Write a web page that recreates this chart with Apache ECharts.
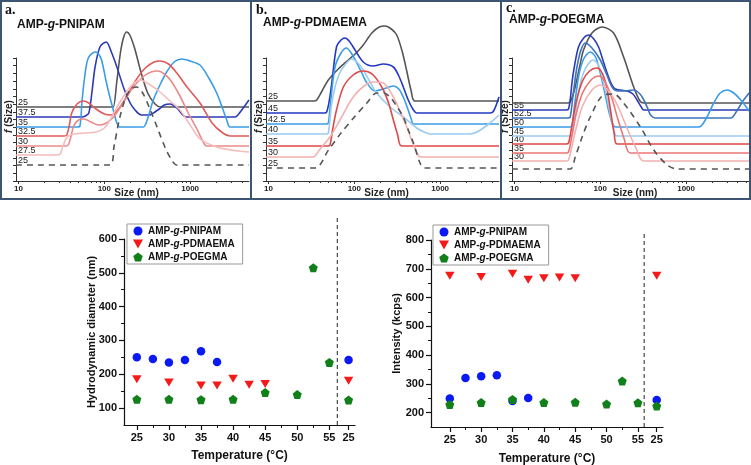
<!DOCTYPE html>
<html><head><meta charset="utf-8">
<script src="https://cdn.jsdelivr.net/npm/echarts@6/dist/echarts.min.js"></script>
<style>html,body{margin:0;padding:0;background:#fff}#c{width:751px;height:465px}</style>
</head><body><div id="c"></div>
<script>
// ================= DATA =================
// Panel a: AMP-g-PNIPAM  (points: [size nm, f(Size) offset units])
const a_T = ['25','37.5','35','32.5','30','27.5','25'];
const a_base = [74,64,54,45,35,26,16];
const a_25 = [[9.35,74],[120,74],[127,74],[140,100],[155,130],[168,144],[182,149],[198,146],[225,133],[265,110],[320,88],[390,77],[454,74],[4850,74]];
const a_37_5 = [[9.35,64],[55,64],[60,65],[66,68],[72,90],[78,114],[89,134],[105,139],[122,128],[140,114],[170,92],[200,78],[228,71],[270,66],[330,66],[420,71],[500,76],[583,77],[700,73],[820,66],[912,64],[3335,64],[3600,66],[4850,81]];
const a_35 = [[9.35,54],[48,54],[52,55],[55,80],[59,104],[65,123],[78,129],[90,124],[97,114],[106,98],[116,84],[130,68],[140,58],[152,54],[285,54],[300,56],[330,66],[372,81],[450,97],[533,109],[650,119],[798,122],[1000,120],[1303,116],[1650,103],[2040,88],[2400,72],[2670,61],[2917,54],[4850,54]];
const a_32_5 = [[9.35,45],[34,45],[36.5,46],[39,55],[41.7,68],[48,77],[57,80],[66,78],[80,72],[100,67],[118,66],[140,70],[175,82],[230,100],[300,113],[380,119],[446,120],[560,117],[700,108],[900,95],[1303,78],[1800,58],[2400,48],[2917,45],[4850,45]];
const a_30 = [[9.35,35],[36,35],[38,36],[41,45],[44,55],[50,61],[58,62],[70,59],[85,56],[100,57],[125,63],[160,76],[210,92],[280,104],[350,109],[426,110],[500,107],[600,100],[750,86],[950,68],[1200,52],[1400,40],[1560,35],[4850,35]];
const a_27_5 = [[9.35,26],[28,26],[30.5,27],[33,35],[37,44],[45,47],[60,48],[80,49],[100,53],[116,61],[150,78],[200,94],[260,101],[330,97],[446,89],[600,79],[762,71],[1000,56],[1303,42],[2040,34],[3000,31],[4850,29]];
const a_25d = [[9.35,16],[116,16],[130,35],[150,62],[175,82],[205,92],[239,94],[280,88],[340,72],[420,52],[520,32],[620,20],[698,16],[4850,16]];

// Panel b: AMP-g-PDMAEMA
const b_T = ['25','45','42.5','40','35','30','25'];
const b_base = [80,68,57,47,35,24,13];
const b_25 = [[9.35,80],[34,80],[36.5,81],[42,90],[49.8,101],[65,112],[85,121],[105,128],[127,136],[160,148],[195,154],[228,155],[270,152],[312,146],[360,130],[408,110],[460,90],[509,80],[4850,80]];
const b_45 = [[9.35,68],[45,68],[47.6,69],[51,80],[54.6,98],[62,134],[70,141],[78,143],[87,140],[97,134],[127,119],[166,115],[218,117],[285,114],[330,105],[372,94],[430,80],[488,71],[533,68],[3820,68],[4200,70],[4850,84]];
const b_42_5 = [[9.35,57],[47,57],[49.8,58],[53,80],[59.6,114],[70,128],[81,133],[92,128],[107,118],[124,107],[140,98],[174,90],[218,92],[285,95],[330,92],[372,84],[420,72],[460,62],[488,57],[4850,57]];
const b_40 = [[9.35,47],[47,47],[49.8,48],[54,75],[59.6,94],[66,106],[74.5,114],[93,122],[110,118],[127,111],[150,100],[182,88],[261,74],[372,64],[533,53],[650,49],[762,47],[2234,47],[4850,66]];
const b_35 = [[9.35,35],[49,35],[52,36],[56,52],[62,71],[74.5,94],[97,106],[127,110],[166,106],[218,91],[255,76],[285,61],[320,46],[357,35],[4850,35]];
const b_30 = [[9.35,24],[33,24],[34.8,25],[40,32],[52,44],[68,61],[97,84],[130,95],[166,99],[218,98],[285,84],[340,70],[408,54],[470,40],[533,29],[583,24],[4850,24]];
const b_25d = [[9.35,13],[34.8,13],[50,31],[70,48],[100,64],[140,78],[182,88],[220,88],[261,84],[310,75],[372,64],[430,50],[488,38],[583,18],[650,13],[4850,13]];

// Panel c: AMP-g-POEGMA
const c_T = ['25','55','52.5','50','45','40','35','30','25'];
const c_base = [78,71,63,54,45,37,28,20,12];
const c_25 = [[9.35,78],[42,78],[44.6,79],[48,86],[51,94],[58,116],[63.8,131],[80,148],[105,154],[143,148],[187,124],[245,94],[290,80],[321,78],[5560,78]];
const c_55 = [[9.35,71],[40,71],[42.6,72],[45,84],[46.7,98],[50,115],[55.7,134],[64,143],[73,146],[84,142],[95.5,134],[108,120],[120,108],[135,97],[150,92],[205,90],[240,87],[268,81],[300,74],[321,71],[5560,71]];
const c_52_5 = [[9.35,63],[42,63],[44.6,64],[48,85],[53,112],[59,130],[66.8,138],[80,133],[100,121],[118,107],[137,94],[160,90],[187,90],[245,91],[290,87],[321,81],[360,72],[385,66],[440,63],[3310,63],[3900,70],[4600,80],[5560,89]];
const c_50 = [[9.35,54],[44,54],[46.7,55],[50,75],[56,105],[64,122],[76.4,129],[88,124],[100,108],[115,85],[130,65],[150,54],[1410,54],[1700,62],[2100,78],[2500,88],[3030,91],[3600,88],[4340,81],[5560,69]];
const c_45 = [[9.35,45],[44,45],[46.7,46],[50,62],[56,90],[65,110],[82.2,121],[95,116],[108,100],[125,75],[140,55],[157,45],[5560,45]];
const c_40 = [[9.35,37],[40,37],[42.6,38],[46,52],[52,78],[62,100],[75,110],[91.5,113],[105,108],[118,95],[132,70],[145,48],[157,37],[5560,37]];
const c_35 = [[9.35,28],[40,28],[42.6,29],[46,42],[52,66],[62,88],[78,101],[95.5,105],[112,100],[135,84],[160,62],[190,42],[224,28],[5560,28]];
const c_30 = [[9.35,20],[40,20],[42.6,21],[46,32],[52,52],[62,75],[80,91],[100,96],[125,90],[160,75],[200,55],[260,33],[321,20],[5560,20]];
const c_25d = [[9.35,12],[44.6,12],[51,24],[62,45],[76.4,64],[109,86],[143,87],[187,78],[294,54],[420,31],[603,16],[788,12],[5560,12]];

const sizeTicks = [10,100,1000];
const sizeMinor = [20,30,40,50,60,70,80,90,200,300,400,500,600,700,800,900,2000,3000,4000,5000];

// Bottom-left: hydrodynamic diameter (nm) vs temperature (58 = back to 25 °C after cooling)
const RETURN_X = 58;
const tempTickVals = [25,30,35,40,45,50,55,58];
const tempTickText = ['25','30','35','40','45','50','55','25'];
const tPNIPAM = [25,27.5,30,32.5,35,37.5,58];
const tPDMAEMA = [25,30,35,37.5,40,42.5,45,58];
const tPOEGMA = [25,30,35,40,45,50,52.5,55,58];
const dPNIPAM = [250,245,235,242,268,236,242];
const dPDMAEMA = [185,176,167,167,187,169,171,181];
const dPOEGMA = [126,126,125,126,146,140,515,235,124];
// Bottom-right: intensity (kcps)
const iPNIPAM = [249,320,326,330,240,251,244];
const iPDMAEMA = [676,671,683,662,667,670,667,676];
const iPOEGMA = [228,235,246,235,236,230,310,234,223];

// ================= CHART =================
const FONT = 'Liberation Sans, Arial, sans-serif';
const chart = echarts.init(document.getElementById('c'), null, {renderer:'canvas'});
const grids = [], xAxes = [], yAxes = [], series = [], titles = [], legends = [];

const panels = [
  {left:16, width:233, max:4850, T:a_T, base:a_base, curves:[a_25,a_37_5,a_35,a_32_5,a_30,a_27_5,a_25d],
   colors:['#555555','#2b3bb8','#3a9de8','#df5a5a','#ea8a8a','#f5bcbc','#555555'],
   letter:'a.', letterPos:[5,3], name:'PNIPAM', namePos:[17,19]},
  {left:266, width:233, max:4850, T:b_T, base:b_base, curves:[b_25,b_45,b_42_5,b_40,b_35,b_30,b_25d],
   colors:['#555555','#2438c4','#3a9de8','#9ccbf0','#e04848','#f4b0b0','#555555'],
   letter:'b.', letterPos:[256,3], name:'PDMAEMA', namePos:[263,17]},
  {left:512, width:238, max:5560, T:c_T, base:c_base, curves:[c_25,c_55,c_52_5,c_50,c_45,c_40,c_35,c_30,c_25d],
   colors:['#555555','#2b3bb8','#3c74bc','#3a9de8','#9ccbf0','#e04545','#ec7575','#f4b0b0','#555555'],
   letter:'c.', letterPos:[506,1], name:'POEGMA', namePos:[509,14]}
];

panels.forEach((p, pi) => {
  const g = grids.length;
  grids.push({left:p.left, width:p.width, top:58, height:123, outerBoundsMode:'none', containLabel:false});
  const xi = xAxes.length;
  xAxes.push({type:'log', logBase:10, gridIndex:g, min:9.35, max:p.max,
    axisLine:{show:true, lineStyle:{color:'#333', width:1}},
    axisTick:{show:true, length:3, customValues:sizeTicks, lineStyle:{color:'#333'}},
    axisLabel:{show:true, customValues:sizeTicks, formatter:v=>String(Math.round(v)), fontSize:8, fontWeight:'bold', color:'#222', fontFamily:FONT, margin:4},
    splitLine:{show:false},
    name:'Size (nm)', nameLocation:'middle', nameGap:7, nameMoveOverlap:false,
    nameTextStyle:{fontSize:10, fontWeight:'bold', color:'#222', fontFamily:FONT, verticalAlign:'top', padding:[0,0,0,8]}});
  xAxes.push({type:'log', logBase:10, gridIndex:g, min:9.35, max:p.max, position:'bottom',
    axisLine:{show:false}, axisLabel:{show:false}, splitLine:{show:false},
    axisTick:{show:true, length:2, customValues:sizeMinor, lineStyle:{color:'#333'}}});
  const yi = yAxes.length;
  yAxes.push({type:'value', gridIndex:g, min:0, max:123, interval:123/16,
    axisLine:{show:true, lineStyle:{color:'#333', width:1}},
    axisTick:{show:true, length:3, lineStyle:{color:'#333'}},
    axisLabel:{show:false}, splitLine:{show:false},
    name:'{i|f} (Size)', nameLocation:'middle', nameGap:2, nameMoveOverlap:false,
    nameTextStyle:{fontSize:10, fontWeight:'bold', color:'#222', fontFamily:FONT, padding:[0,0,0,6],
      rich:{i:{fontStyle:'italic', fontWeight:'bold', fontSize:10, color:'#222', fontFamily:FONT}}}});
  const labMap = {}; p.base.forEach((b,i)=>{labMap[b]=p.T[i];});
  yAxes.push({type:'value', gridIndex:g, min:0, max:123, position:'left',
    axisLine:{show:false}, axisTick:{show:false}, splitLine:{show:false},
    axisLabel:{show:true, inside:true, customValues:p.base, hideOverlap:false, margin:2,
      formatter:v=>labMap[v]||'', fontSize:9, color:'#222', fontFamily:FONT, verticalAlign:'bottom'}});
  p.curves.forEach((c, ci) => {
    const dashed = (ci === p.curves.length-1);
    series.push({type:'line', xAxisIndex:xi, yAxisIndex:yi, data:c, showSymbol:false, symbol:'none',
      smooth:0.3, clip:false, silent:true, animation:false,
      lineStyle:{color:p.colors[ci], width:1.6, type: dashed ? [6,5] : 'solid'}});
  });
  titles.push({text:p.letter, left:p.letterPos[0], top:p.letterPos[1], padding:0,
    textStyle:{fontFamily:'Liberation Serif, serif', fontWeight:'bold', fontSize:14, color:'#111'}});
  titles.push({text:'{n|AMP-}{i|g}{n|-' + p.name + '}', left:p.namePos[0], top:p.namePos[1], padding:0,
    textStyle:{rich:{n:{fontFamily:FONT, fontWeight:'bold', fontSize:12, color:'#111'},
                     i:{fontFamily:FONT, fontWeight:'bold', fontStyle:'italic', fontSize:12, color:'#111'}}}});
});

// -------- bottom scatter charts --------
const downTri = 'path://M-5,-4 L5,-4 L0,5 Z';
const pentagon = 'path://M0,-10 L9.51,-3.09 L5.88,8.09 L-5.88,8.09 L-9.51,-3.09 Z';
const sName = ['AMP-g-PNIPAM','AMP-g-PDMAEMA','AMP-g-POEGMA'];
const sSym = ['circle', downTri, pentagon];
const sSize = [[8.5,8.5],[9.5,8],[9,9]];
const sCol = ['#0b1af2','#f51a1a','#11801a'];

const bottoms = [
  {left:124, width:231, top:239, height:186, xmin:23, xmax:59, ymin:50, ymax:600, cut:56.25, cutTop:665,
   yTicks:[100,200,300,400,500,600], yMinor:[150,250,350,450,550], yName:'Hydrodynamic diameter (nm)', yGap:27,
   xs:[tPNIPAM,tPDMAEMA,tPOEGMA], ys:[dPNIPAM,dPDMAEMA,dPOEGMA], legend:[127,224], xGap:25},
  {left:431, width:232, top:240, height:187, xmin:22, xmax:59, ymin:150, ymax:800, cut:56, cutTop:825,
   yTicks:[200,300,400,500,600,700,800], yMinor:[250,350,450,550,650,750], yName:'Intensity (kcps)', yGap:29,
   xs:[tPNIPAM,tPDMAEMA,tPOEGMA], ys:[iPNIPAM,iPDMAEMA,iPOEGMA], legend:[433,225], xGap:26}
];
const tempMinor = [27.5,32.5,37.5,42.5,47.5,52.5];
const lab = {fontSize:11, fontWeight:'bold', color:'#111', fontFamily:FONT};

bottoms.forEach((b, bi) => {
  const g = grids.length;
  grids.push({left:b.left, width:b.width, top:b.top, height:b.height, outerBoundsMode:'none', containLabel:false});
  const xi = xAxes.length;
  xAxes.push({type:'value', gridIndex:g, min:b.xmin, max:b.xmax,
    axisLine:{show:true, lineStyle:{color:'#111', width:1.2}},
    axisTick:{show:true, length:5, customValues:tempTickVals, lineStyle:{color:'#111', width:1.2}},
    axisLabel:Object.assign({customValues:tempTickVals, margin:7,
      formatter:v=>{const k=tempTickVals.indexOf(v); return k>=0?tempTickText[k]:'';}}, lab),
    splitLine:{show:false},
    name:'Temperature (°C)', nameLocation:'middle', nameGap:b.xGap, nameMoveOverlap:false,
    nameTextStyle:{fontSize:12, fontWeight:'bold', color:'#111', fontFamily:FONT, verticalAlign:'top'}});
  xAxes.push({type:'value', gridIndex:g, min:b.xmin, max:b.xmax, position:'bottom',
    axisLine:{show:false}, axisLabel:{show:false}, splitLine:{show:false},
    axisTick:{show:true, length:3, customValues:tempMinor, lineStyle:{color:'#111', width:1}}});
  const yi = yAxes.length;
  yAxes.push({type:'value', gridIndex:g, min:b.ymin, max:b.ymax, interval:50,
    axisLine:{show:true, lineStyle:{color:'#111', width:1.2}},
    axisTick:{show:true, length:5, customValues:b.yTicks, lineStyle:{color:'#111', width:1.2}},
    axisLabel:Object.assign({customValues:b.yTicks, margin:7}, lab),
    splitLine:{show:false},
    name:b.yName, nameLocation:'middle', nameGap:b.yGap, nameMoveOverlap:false,
    nameTextStyle:{fontSize:11, fontWeight:'bold', color:'#111', fontFamily:FONT}});
  yAxes.push({type:'value', gridIndex:g, min:b.ymin, max:b.ymax, position:'left',
    axisLine:{show:false}, axisLabel:{show:false}, splitLine:{show:false},
    axisTick:{show:true, length:3, customValues:b.yMinor, lineStyle:{color:'#111', width:1}}});
  // dashed break line (cooling back to 25 °C)
  series.push({type:'line', xAxisIndex:xi, yAxisIndex:yi, data:[[b.cut,b.ymin],[b.cut,b.cutTop]],
    showSymbol:false, symbol:'none', clip:false, silent:true, animation:false,
    lineStyle:{color:'#555', width:1.3, type:[4,3]}});
  for (let k=0;k<3;k++){
    series.push({type:'scatter', name:sName[k], xAxisIndex:xi, yAxisIndex:yi,
      data:b.xs[k].map((x,i)=>[x,b.ys[k][i]]), symbol:sSym[k], symbolSize:sSize[k],
      itemStyle:{color:sCol[k], opacity:1}, animation:false, z:5});
  }
  legends.push({orient:'vertical', left:b.legend[0], top:b.legend[1], data:sName,
    itemWidth:10, itemHeight:9, itemGap:3, padding:[2,8,2,6],
    borderColor:'#999', borderWidth:1, backgroundColor:'#fff', selectedMode:false,
    formatter:n=>n.replace('-g-','-{i|g}-'),
    textStyle:{fontSize:10, fontWeight:'bold', color:'#111', fontFamily:FONT,
      rich:{i:{fontSize:10, fontWeight:'bold', fontStyle:'italic', color:'#111', fontFamily:FONT}}}});
});

chart.setOption({
  animation:false,
  backgroundColor:'#fff',
  title:titles,
  legend:legends,
  grid:grids,
  xAxis:xAxes,
  yAxis:yAxes,
  series:series,
  graphic:[
    {type:'rect', shape:{x:1,y:1,width:250,height:198}, style:{fill:null, stroke:'#3d5573', lineWidth:2}, silent:true, z:100},
    {type:'rect', shape:{x:251,y:1,width:250,height:198}, style:{fill:null, stroke:'#3d5573', lineWidth:2}, silent:true, z:100},
    {type:'rect', shape:{x:501,y:1,width:249,height:198}, style:{fill:null, stroke:'#3d5573', lineWidth:2}, silent:true, z:100}
  ]
});
</script>
</body></html>
